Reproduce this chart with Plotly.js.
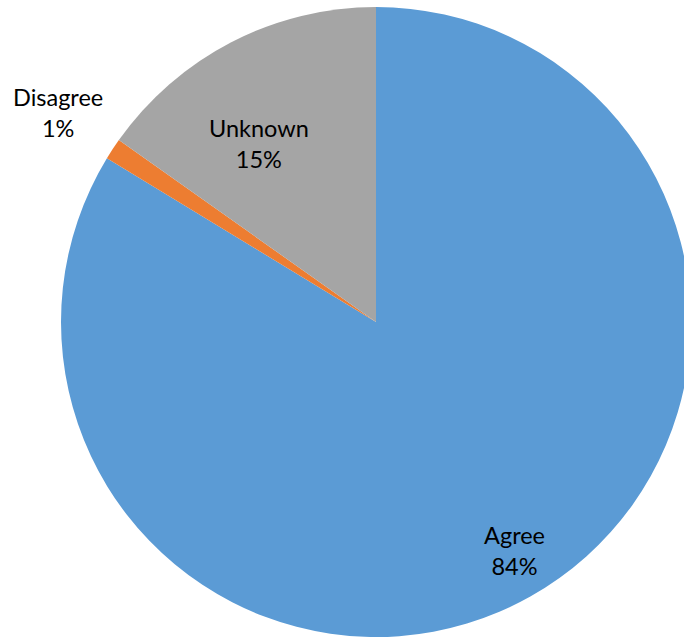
<!DOCTYPE html>
<html>
<head>
<meta charset="utf-8">
<script src="https://cdn.plot.ly/plotly-3.0.1.min.js"></script>
<style>
html,body{margin:0;padding:0;overflow:hidden;background:#fff;width:684px;height:640px;}
#chart{width:752px;height:640px;}
</style>
</head>
<body>
<div id="chart"></div>
<script>
const categories = ['Agree', 'Disagree', 'Unknown'];
const shares = [83.7, 1.1, 15.2];
const sliceColors = ['#5B9BD5', '#ED7D31', '#A5A5A5'];

const W = 752, H = 640, T = 7, B = 3;
const px = x => x / W;
const py = y => (H - B - y) / (H - T - B);
const labelSpots = [[514, 550], [58, 113], [259, 143]];

const total = shares.reduce((a, b) => a + b, 0);
const annotations = categories.map((c, i) => ({
  text: c + '<br>' + Math.round(shares[i] / total * 100) + '%',
  x: px(labelSpots[i][0]), y: py(labelSpots[i][1]),
  xref: 'paper', yref: 'paper', showarrow: false,
  xanchor: 'center', yanchor: 'middle',
  font: {family: 'Lato, "Open Sans", sans-serif', size: 23.5, color: '#000'}
}));

Plotly.newPlot('chart', [{
  type: 'pie',
  labels: categories,
  values: shares,
  marker: {colors: sliceColors, line: {width: 0}},
  sort: false,
  direction: 'clockwise',
  rotation: 0,
  textinfo: 'none',
  hoverinfo: 'label+percent',
  showlegend: false
}], {
  width: W, height: H,
  margin: {l: 0, r: 0, t: T, b: B},
  paper_bgcolor: '#fff',
  annotations: annotations
}, {displayModeBar: false, staticPlot: true});
</script>
</body>
</html>
